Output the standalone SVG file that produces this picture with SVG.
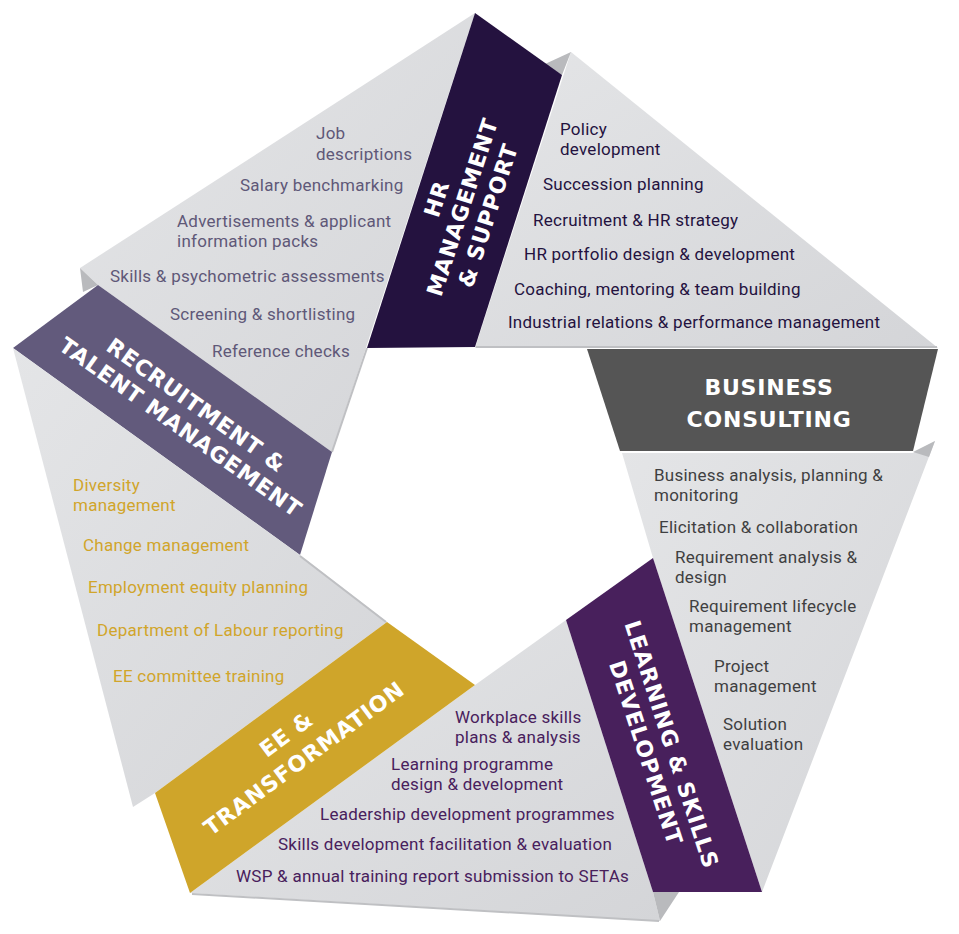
<svg xmlns="http://www.w3.org/2000/svg" width="959" height="934" viewBox="0 0 959 934">
  <defs>
    <linearGradient id="gp" x1="0" y1="0" x2="1" y2="1">
      <stop offset="0" stop-color="#e4e5e7"/>
      <stop offset="1" stop-color="#d4d5d8"/>
    </linearGradient>
    <style>
      .panel { fill: url(#gp); }
      .fold { fill: #b9babd; }
      .bevel { fill: none; stroke: #bfc0c3; stroke-width: 2; }
      .head { font-family: "DejaVu Sans", "Liberation Sans", sans-serif; font-weight: bold; font-size: 22px; fill: #ffffff; letter-spacing: 0.8px; text-anchor: middle; }
      .item { font-family: Roboto, "Liberation Sans", sans-serif; font-size: 17px; letter-spacing: 0.25px; }
      .c-rec { fill: #5f5878; }
      .c-hr { fill: #24123f; }
      .c-bus { fill: #3f3f41; }
      .c-lrn { fill: #48205c; }
      .c-ee { fill: #d1a52b; }
    </style>
  </defs>
  <rect width="959" height="934" fill="#ffffff"/>

  <!-- Recruitment & Talent Management -->
  <g id="node-recruitment">
    <polygon class="panel" points="475,13 332,452 98,285 80,268"/>
    <polygon class="fold" points="80,268 98,285 83,292"/>
    <line class="bevel" x1="367" y1="348" x2="332" y2="452"/>
    <polygon fill="#625a7c" points="13,348 98,285 332,452 300,555"/>
    <g transform="translate(188.5,416) rotate(35.5)">
      <text class="head" x="0" y="-5.5">RECRUITMENT &amp;</text>
      <text class="head" x="0" y="21.5">TALENT MANAGEMENT</text>
    </g>
    <text class="item c-rec"><tspan x="316" y="139">Job</tspan><tspan x="316" y="160">descriptions</tspan></text>
    <text class="item c-rec" x="240" y="191">Salary benchmarking</text>
    <text class="item c-rec"><tspan x="177" y="227">Advertisements &amp; applicant</tspan><tspan x="177" y="247">information packs</tspan></text>
    <text class="item c-rec" x="110" y="282">Skills &amp; psychometric assessments</text>
    <text class="item c-rec" x="170" y="320">Screening &amp; shortlisting</text>
    <text class="item c-rec" x="212" y="357">Reference checks</text>
  </g>

  <!-- HR Management & Support -->
  <g id="node-hr">
    <polygon class="panel" points="571,52 938,348 475,348"/>
    <line class="bevel" x1="476" y1="347" x2="937" y2="347"/>
    <polygon class="fold" fill="#a9aaad" points="545,64 571,52 562,75"/>
    <polygon fill="#24123f" points="475,13 562,75 475,347 367,348"/>
    <g transform="translate(462,207) rotate(-72)">
      <text class="head" x="0" y="-19">HR</text>
      <text class="head" x="0" y="8">MANAGEMENT</text>
      <text class="head" x="0" y="35">&amp; SUPPORT</text>
    </g>
    <text class="item c-hr"><tspan x="560" y="135">Policy</tspan><tspan x="560" y="155">development</tspan></text>
    <text class="item c-hr" x="543" y="190">Succession planning</text>
    <text class="item c-hr" x="533" y="226">Recruitment &amp; HR strategy</text>
    <text class="item c-hr" x="524" y="260">HR portfolio design &amp; development</text>
    <text class="item c-hr" x="514" y="295">Coaching, mentoring &amp; team building</text>
    <text class="item c-hr" x="508" y="328">Industrial relations &amp; performance management</text>
  </g>

  <!-- Business Consulting -->
  <g id="node-business">
    <polygon class="panel" points="622,453 913,453 935,441 762,892 653,558"/>
    <polygon class="fold" fill="#c6c7ca" points="913,452 935,441 929,457"/>
    <polygon fill="#555555" points="587,349 938,349 913,451 620,451"/>
    <text class="head" x="769" y="395">BUSINESS</text>
    <text class="head" x="769" y="427">CONSULTING</text>
    <text class="item c-bus"><tspan x="654" y="481">Business analysis, planning &amp;</tspan><tspan x="654" y="501">monitoring</tspan></text>
    <text class="item c-bus" x="659" y="533">Elicitation &amp; collaboration</text>
    <text class="item c-bus"><tspan x="675" y="563">Requirement analysis &amp;</tspan><tspan x="675" y="583">design</tspan></text>
    <text class="item c-bus"><tspan x="689" y="612">Requirement lifecycle</tspan><tspan x="689" y="632">management</tspan></text>
    <text class="item c-bus"><tspan x="714" y="672">Project</tspan><tspan x="714" y="692">management</tspan></text>
    <text class="item c-bus"><tspan x="723" y="730">Solution</tspan><tspan x="723" y="750">evaluation</tspan></text>
  </g>

  <!-- Learning & Skills Development -->
  <g id="node-learning">
    <polygon class="panel" points="190,893 475,685 566,620 653,892 660,921"/>
    <line class="bevel" x1="192" y1="894" x2="659" y2="921"/>
    <polygon class="fold" fill="#b3b4b7" points="653,892 679,892 660,921"/>
    <polygon fill="#48205c" points="566,620 653,558 762,892 653,892"/>
    <g transform="translate(659,748.5) rotate(72)">
      <text class="head" x="0" y="-5.5">LEARNING &amp; SKILLS</text>
      <text class="head" x="0" y="21.5">DEVELOPMENT</text>
    </g>
    <text class="item c-lrn"><tspan x="455" y="723">Workplace skills</tspan><tspan x="455" y="743">plans &amp; analysis</tspan></text>
    <text class="item c-lrn"><tspan x="391" y="770">Learning programme</tspan><tspan x="391" y="790">design &amp; development</tspan></text>
    <text class="item c-lrn" x="320" y="820">Leadership development programmes</text>
    <text class="item c-lrn" x="278" y="850">Skills development facilitation &amp; evaluation</text>
    <text class="item c-lrn" x="236" y="882">WSP &amp; annual training report submission to SETAs</text>
  </g>

  <!-- EE & Transformation -->
  <g id="node-ee">
    <polygon class="panel" points="13,348 300,555 387,622 155,793 133,807"/>
    <line class="bevel" x1="300" y1="556" x2="386" y2="622"/>
    <polygon fill="#cfa52a" points="155,793 387,622 475,685 190,893"/>
    <g transform="translate(295,746) rotate(-36.4)">
      <text class="head" x="0" y="-7">EE &amp;</text>
      <text class="head" x="0" y="23">TRANSFORMATION</text>
    </g>
    <text class="item c-ee"><tspan x="73" y="491">Diversity</tspan><tspan x="73" y="511">management</tspan></text>
    <text class="item c-ee" x="83" y="551">Change management</text>
    <text class="item c-ee" x="88" y="593">Employment equity planning</text>
    <text class="item c-ee" x="97" y="636">Department of Labour reporting</text>
    <text class="item c-ee" x="113" y="682">EE committee training</text>
  </g>
</svg>
